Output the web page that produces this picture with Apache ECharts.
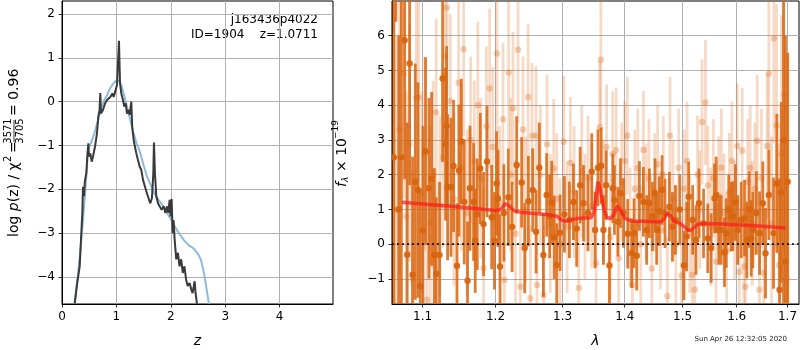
<!DOCTYPE html>
<html>
<head>
<meta charset="utf-8">
<script src="https://cdn.jsdelivr.net/npm/echarts@6/dist/echarts.min.js"></script>
<style>
  html, body { margin: 0; padding: 0; background: #fff; }
  #chart { width: 800px; height: 350px; }
</style>
</head>
<body>
<div id="chart"></div>
<script>
// --- left panel: log p(z) ---
const zTicks = [0, 1, 2, 3, 4];
const pzTicks = [-4, -3, -2, -1, 0, 1, 2];

const priorZ = [0.23, 0.28, 0.33, 0.38, 0.43, 0.48, 0.53, 0.60, 0.69, 0.76, 0.82, 0.88, 0.94, 1.00, 1.05, 1.09,
  1.15, 1.21, 1.30, 1.37, 1.43, 1.50, 1.56, 1.62, 1.70, 1.78, 1.87, 1.95, 2.03, 2.12, 2.24, 2.33, 2.42, 2.50,
  2.55, 2.61, 2.66, 2.70];
const priorLogP = [-4.62, -4.1, -3.5, -2.8, -2.0, -1.1, -0.95, -0.7, -0.3, 0.0, 0.13, 0.3, 0.41, 0.49, 0.47, 0.38,
  0.11, -0.19, -0.65, -0.95, -1.14, -1.45, -1.7, -1.87, -2.1, -2.25, -2.4, -2.58, -2.75, -2.95, -3.16, -3.28, -3.35, -3.48,
  -3.6, -3.92, -4.3, -4.62];

const pzZ = [0.233, 0.28, 0.325, 0.355, 0.374, 0.386, 0.404, 0.42, 0.447, 0.465, 0.484, 0.496, 0.52, 0.545, 0.57,
  0.606, 0.643, 0.667, 0.69, 0.704, 0.716, 0.753, 0.79, 0.827, 0.85, 0.888, 0.925, 0.949, 0.986, 1.01, 1.035, 1.047,
  1.066, 1.09, 1.12, 1.145, 1.17, 1.194, 1.219, 1.243, 1.274, 1.29, 1.317, 1.34, 1.366, 1.396, 1.427, 1.457, 1.488,
  1.525, 1.56, 1.6, 1.623, 1.653, 1.678, 1.69, 1.708, 1.733, 1.764, 1.794, 1.83, 1.868, 1.9, 1.93, 1.953, 1.978,
  1.996, 2.015, 2.033, 2.05, 2.07, 2.1, 2.13, 2.16, 2.19, 2.22, 2.25, 2.28, 2.31, 2.345, 2.376, 2.4, 2.437, 2.455, 2.48];
const pzLog = [-4.61, -4.14, -3.76, -3.0, -2.54, -1.94, -2.16, -1.82, -1.63, -1.25, -0.95, -1.25, -1.18, -1.37, -1.25,
  -1.03, -0.72, -0.34, -0.19, 0.2, -0.27, -0.19, -0.04, 0.04, 0.0, 0.11, 0.19, 0.11, 0.27, 0.38, 0.34, 1.39,
  0.42, 0.19, 0.04, -0.11, -0.04, -0.27, -0.19, -0.30, 0.0, -0.57, -0.87, -1.03, -1.18, -1.33, -1.48, -1.56, -1.78,
  -1.94, -2.09, -2.24, -2.32, -2.2, -1.63, -0.93, -1.63, -2.16, -2.32, -2.35, -2.47, -2.39, -2.54, -2.39, -2.54, -2.24,
  -2.62, -2.22, -3.0, -2.7, -3.15, -3.6, -3.45, -3.76, -3.6, -3.91, -3.76, -4.06, -4.21, -4.14, -4.29, -4.37, -4.1, -4.37, -4.61];

// --- right panel: spectrum ---
const waveTicks = [1.1, 1.2, 1.3, 1.4, 1.5, 1.6, 1.7];
const fluxTicks = [-1, 0, 1, 2, 3, 4, 5, 6];

const darkWave = [1.0630, 1.0655, 1.0690, 1.0725, 1.0767, 1.0800, 1.0831, 1.0869, 1.0905, 1.0940, 1.0970, 1.1005,
  1.1039, 1.1084, 1.1119, 1.1155, 1.1181, 1.1225, 1.1266, 1.1306, 1.1320, 1.1333, 1.1379, 1.1414, 1.1461, 1.1488,
  1.1520, 1.1561, 1.1606, 1.1640, 1.1690, 1.1713, 1.1741, 1.1784, 1.1830, 1.1879, 1.1945, 1.1985,
  1.2016, 1.2036, 1.2065, 1.2120, 1.2185, 1.2240, 1.2307, 1.2380, 1.2425, 1.2480, 1.2544, 1.2595, 1.2644, 1.2705,
  1.2755, 1.2800, 1.2832, 1.2870, 1.2909, 1.2960, 1.3028, 1.3106, 1.3169, 1.3220, 1.3275, 1.3328, 1.3400, 1.3460, 1.3514,
  1.3560, 1.3612, 1.3649, 1.3693, 1.3747, 1.3803, 1.3829, 1.3885, 1.3929, 1.3980, 1.4050, 1.4117, 1.4156, 1.4202,
  1.4247, 1.4315, 1.4372, 1.4418, 1.4470, 1.4515, 1.4544, 1.4590, 1.4637, 1.4689, 1.4766, 1.4820, 1.4873, 1.4950,
  1.5025, 1.5073, 1.5109, 1.5182, 1.5242,
  1.5296, 1.5380, 1.5458, 1.5521, 1.5582, 1.5614, 1.5662, 1.5707, 1.5769, 1.5801, 1.5850, 1.5896, 1.5926, 1.5975,
  1.6022, 1.6087, 1.6151, 1.6195, 1.6240, 1.6280, 1.6312, 1.6380, 1.6443, 1.6507, 1.6560, 1.6626, 1.6719, 1.6785,
  1.6840, 1.6874, 1.6920, 1.6960, 1.7005];
const darkFlux = [2.5, 9.5, 1.0, 2.5, 5.87, -0.3, 5.2, -0.88, 1.8, 1.56, -1.2, 0.4,
  2.68, 1.61, 1.88, -0.31, -0.85, -0.31, 4.77, 2.88, 3.4, 1.64, 1.64, 2.25, -0.62, 2.12,
  2.96, 1.22, -1.05, 1.61, 1.22, 0.1, 0.86, 2.18, 0.58, 2.38, 0.78, 0.1,
  1.75, 1.32, -0.64, 0.9, 1.35, 0.5, 2.28, 1.78, -0.11, 1.24, 1.56, 0.36, 2.2, -0.31,
  1.42, 0.8, 1.2, 0.2, -0.6, 0.33, 0.86, 0.7, 1.22, 0.45, 1.7, 1.18, 0.9, 2.09, 0.41,
  2.2, 2.26, 0.41, 1.7, -0.61, 1.61, 1.27, 0.65, 1.47, 0.9, 0.3, -0.26, 0.32, -0.33,
  1.39, 1.22, 0.41, 1.18, 0.8, 1.47, 0.41, 0.95, 1.56, 0.89, 1.08, 0.5, 0.7, 1.0,
  -0.61, 0.22, 1.37, 0.7, 0.12,
  1.18, 0.6, 0.17, -0.11, 1.32, 1.42, 0.41, 0.41, -0.23, 0.32, 1.0, 0.79, 0.81, 1.2,
  0.41, 0.7, 0.75, 0.12, 1.0, 0.17, 0.41, 0.9, 0.32, 1.18, -0.26, 1.42, 0.32, 1.75,
  -1.31, 1.49, 3.0, -0.5, 1.8];
const darkErr = [6.0, 3.1, 5.0, 4.5, 4.0, 3.8, 3.5, 3.4, 3.4, 3.1, 2.8, 3.0,
  2.7, 2.6, 2.5, 2.5, 2.2, 2.1, 2.4, 2.2, 2.3, 2.1, 2.0, 1.9, 1.8, 1.9,
  1.8, 1.8, 1.7, 1.8, 1.7, 1.5, 1.6, 1.6, 1.5, 1.6, 1.5, 1.4,
  1.5, 1.4, 1.5, 1.4, 1.4, 1.3, 1.4, 1.3, 1.3, 1.3, 1.2, 1.2, 1.3, 1.2,
  1.2, 1.2, 1.2, 1.2, 1.2, 1.1, 1.1, 1.1, 1.1, 1.1, 1.1, 1.1, 1.1, 1.1, 1.1,
  1.1, 1.1, 1.0, 1.0, 1.1, 1.0, 1.0, 1.0, 1.0, 1.0, 1.0, 1.0, 1.0, 1.0,
  1.0, 1.0, 1.0, 1.0, 1.0, 1.0, 1.0, 1.0, 1.0, 1.0, 1.0, 1.0, 1.0, 1.0,
  1.0, 1.0, 1.0, 1.0, 1.0,
  1.0, 1.0, 1.0, 1.0, 1.0, 1.1, 1.0, 1.0, 1.0, 1.0, 1.0, 1.0, 1.0, 1.1,
  1.0, 1.1, 1.1, 1.1, 1.1, 1.1, 1.1, 1.2, 1.2, 1.2, 1.3, 1.3, 1.6, 2.0,
  3.2, 2.6, 5.0, 6.5, 3.7];

const lightWave = [1.0650, 1.0700, 1.0754, 1.0790, 1.0830, 1.0870, 1.0918, 1.0948, 1.0990, 1.1030, 1.1057, 1.1100,
  1.1140, 1.1180, 1.1230, 1.1270, 1.1302, 1.1325, 1.1370, 1.1420, 1.1483, 1.1520, 1.1552, 1.1600, 1.1650, 1.1700,
  1.1750, 1.1790, 1.1830, 1.1870, 1.1916, 1.1960, 1.2021, 1.2060, 1.2108, 1.2127, 1.2189, 1.2220, 1.2253, 1.2290,
  1.2327, 1.2361, 1.2400, 1.2440, 1.2476, 1.2510, 1.2535, 1.2595, 1.2610, 1.2660, 1.2709, 1.2761, 1.2810, 1.2863,
  1.2910, 1.2960, 1.3017, 1.3070, 1.3122, 1.3180, 1.3253, 1.3300, 1.3350, 1.3400, 1.3460, 1.3530, 1.3588, 1.3607,
  1.3650, 1.3700, 1.3760, 1.3800, 1.3857, 1.3900, 1.3950, 1.4000, 1.4044, 1.4090, 1.4129, 1.4170, 1.4220, 1.4270,
  1.4315, 1.4360, 1.4410, 1.4460, 1.4510, 1.4560, 1.4610, 1.4660, 1.4731, 1.4776, 1.4830, 1.4880, 1.4930, 1.4980,
  1.5030, 1.5080, 1.5130, 1.5176, 1.5222, 1.5270, 1.5310, 1.5352, 1.5416, 1.5460, 1.5510, 1.5560, 1.5610, 1.5660,
  1.5710, 1.5760, 1.5810, 1.5860, 1.5910, 1.5960, 1.6011, 1.6050, 1.6106, 1.6137, 1.6169, 1.6210, 1.6260, 1.6300,
  1.6350, 1.6396, 1.6440, 1.6480, 1.6526, 1.6593, 1.6626, 1.6680, 1.6725, 1.6780, 1.6830, 1.6880, 1.6930, 1.6975];
const lightFlux = [1.0, 3.3, 4.91, 0.8, 2.9, -1.0, 4.22, 4.22, 1.5, 2.6, -1.6, 0.6,
  2.0, 3.8, 1.1, 2.5, 5.41, 6.81, 4.12, 1.3, 4.65, 2.2, 5.61, 0.9, 3.0, 2.4,
  4.0, 1.9, -0.69, 3.4, 4.48, 2.8, 5.49, 1.2, 3.6, -1.03, 4.94, 2.0, 3.91, 0.3,
  5.6, -1.22, 3.3, 1.0, 4.24, -1.55, 3.12, 3.12, -1.17, 2.0, -1.46, 2.88, 0.6, 2.18,
  1.3, 0.0, 2.95, 0.5, 2.34, 1.5, -1.26, 2.1, 0.8, 1.9, 1.1, -0.55, 3.36, 5.31,
  1.2, 2.8, 0.2, 2.6, 2.71, -0.4, 1.8, 2.4, 3.12, 0.5, -1.17, 1.6, 2.2, 0.0,
  2.71, 1.2, 1.9, -0.7, 1.5, 2.3, 0.4, 2.0, -1.49, 3.12, 1.3, 0.0, 2.2, -0.9,
  1.6, 2.4, 0.3, -0.88, -1.31, 2.0, 1.0, 3.52, 4.08, 1.7, 0.5, 1.9, -0.5, 1.4,
  2.2, 0.9, -0.2, 1.5, 2.4, 0.7, 2.83, -0.79, 2.69, -0.64, -1.22, 1.8, 2.2, 0.6,
  1.6, 2.98, -1.31, 1.9, -0.83, 2.83, 4.91, 0.6, 5.92, 3.41, -0.6, 2.6, 4.3, -1.0];
const lightErr = [5.0, 4.2, 3.6, 3.6, 3.4, 3.1, 3.1, 3.0, 2.9, 2.8, 2.7, 2.8,
  2.7, 2.7, 2.6, 2.6, 2.5, 2.5, 2.5, 2.5, 2.5, 2.4, 2.5, 2.4, 2.4, 2.3,
  2.4, 2.3, 2.3, 2.3, 2.3, 2.3, 2.3, 2.2, 2.2, 2.2, 2.2, 2.2, 2.2, 2.1,
  2.1, 2.1, 2.1, 2.1, 2.1, 2.1, 2.1, 2.0, 2.0, 2.0, 2.0, 2.0, 2.0, 2.0,
  1.9, 1.9, 1.9, 1.9, 1.9, 1.9, 1.9, 1.9, 1.8, 1.8, 1.8, 1.8, 1.9, 1.9,
  1.8, 1.8, 1.8, 1.8, 1.8, 1.7, 1.7, 1.7, 1.7, 1.7, 1.7, 1.7, 1.7, 1.7,
  1.7, 1.7, 1.7, 1.7, 1.7, 1.7, 1.7, 1.7, 1.7, 1.7, 1.7, 1.7, 1.7, 1.7,
  1.7, 1.7, 1.7, 1.7, 1.7, 1.7, 1.7, 1.8, 1.8, 1.7, 1.7, 1.7, 1.7, 1.7,
  1.7, 1.7, 1.7, 1.7, 1.7, 1.7, 1.8, 1.8, 1.8, 1.8, 1.8, 1.8, 1.8, 1.8,
  1.9, 1.9, 1.9, 2.0, 2.0, 2.1, 2.2, 2.5, 3.0, 3.5, 3.5, 4.0, 4.5, 5.0];

const modelWave = [1.073, 1.10, 1.15, 1.20, 1.207, 1.214, 1.22, 1.227, 1.24, 1.26, 1.28, 1.292, 1.298, 1.304, 1.313,
  1.325, 1.345, 1.35, 1.353, 1.356, 1.36, 1.365, 1.37, 1.376, 1.382, 1.388, 1.394, 1.40, 1.41, 1.43, 1.46, 1.466,
  1.473, 1.479, 1.485, 1.495, 1.505, 1.511, 1.517, 1.525, 1.533, 1.56, 1.60, 1.65, 1.696];
const modelFlux = [1.21, 1.16, 1.07, 0.97, 1.0, 1.17, 1.1, 0.96, 0.91, 0.88, 0.85, 0.8, 0.7, 0.66, 0.7,
  0.75, 0.76, 0.95, 1.4, 1.8, 1.55, 1.05, 0.78, 0.74, 0.85, 1.11, 0.95, 0.75, 0.67, 0.66, 0.64, 0.7,
  0.88, 0.82, 0.66, 0.6, 0.48, 0.39, 0.42, 0.55, 0.6, 0.59, 0.56, 0.52, 0.47];

const chart = echarts.init(document.getElementById("chart"), null, { renderer: "canvas" });

const font = "DejaVu Sans";
const minus = (v) => String(v).replace("-", "\u2212");
const log10 = (v) => Math.log10(v);

function axisCommon(ticks, formatter) {
  return {
    axisLine: { show: true, onZero: false, lineStyle: { color: "#000", width: 1 } },
    axisTick: { show: true, customValues: ticks, length: 3.5, lineStyle: { color: "#000", width: 0.8 } },
    axisLabel: {
      customValues: ticks,
      color: "#000",
      fontFamily: font,
      fontSize: 12,
      margin: 7,
      formatter,
    },
    splitLine: { show: true, lineStyle: { color: "#b0b0b0", width: 1 } },
  };
}

// vertical error bar with a dot at the value
function errorBars(color, barOpacity, dotOpacity) {
  return (params, api) => {
    const x = api.value(0);
    const y = api.value(1);
    const e = api.value(2);
    const lo = api.coord([x, y - e]);
    const hi = api.coord([x, y + e]);
    const c = api.coord([x, y]);
    return {
      type: "group",
      children: [
        {
          type: "line",
          shape: { x1: lo[0], y1: lo[1], x2: hi[0], y2: hi[1] },
          style: { stroke: color, lineWidth: 2.8, opacity: barOpacity },
        },
        {
          type: "circle",
          shape: { cx: c[0], cy: c[1], r: 3.2 },
          style: { fill: color, opacity: dotOpacity },
        },
      ],
    };
  };
}

const orange = "#d9650f";

chart.setOption({
  animation: false,
  grid: [
    { left: 62, top: 1, width: 271, height: 303, show: true, borderColor: "#000", borderWidth: 1, outerBoundsMode: "none" },
    { left: 392, top: 1, width: 407, height: 303, show: true, borderColor: "#000", borderWidth: 1, outerBoundsMode: "none" },
  ],
  xAxis: [
    {
      gridIndex: 0,
      type: "value",
      min: 0,
      max: 4.98,
      name: "z",
      nameLocation: "middle",
      nameGap: 30,
      nameTextStyle: { fontFamily: font, fontSize: 14, fontStyle: "italic", color: "#000" },
      ...axisCommon(zTicks, (v) => minus(v)),
    },
    {
      gridIndex: 1,
      type: "value",
      min: log10(1.0606),
      max: log10(1.7235),
      name: "\u03bb",
      nameLocation: "middle",
      nameGap: 30,
      nameTextStyle: { fontFamily: font, fontSize: 14, fontStyle: "italic", color: "#000" },
      ...axisCommon(waveTicks.map(log10), (v) => Math.pow(10, v).toFixed(1)),
    },
  ],
  yAxis: [
    {
      gridIndex: 0,
      type: "value",
      min: -4.62,
      max: 2.3,
      ...axisCommon(pzTicks, (v) => minus(v)),
    },
    {
      gridIndex: 1,
      type: "value",
      min: -1.72,
      max: 7.0,
      ...axisCommon(fluxTicks, (v) => minus(v)),
    },
  ],
  series: [
    {
      type: "line",
      xAxisIndex: 0,
      yAxisIndex: 0,
      showSymbol: false,
      data: priorZ.map((z, i) => [z, priorLogP[i]]),
      lineStyle: { color: "#8fbbd9", width: 2 },
      z: 3,
    },
    {
      type: "line",
      xAxisIndex: 0,
      yAxisIndex: 0,
      showSymbol: false,
      data: pzZ.map((z, i) => [z, pzLog[i]]),
      lineStyle: { color: "#3a3a3a", width: 2 },
      z: 4,
    },
    {
      type: "custom",
      xAxisIndex: 1,
      yAxisIndex: 1,
      clip: true,
      renderItem: errorBars(orange, 0.24, 0.3),
      data: lightWave.map((w, i) => [log10(w), lightFlux[i], lightErr[i]]),
      z: 2,
    },
    {
      type: "custom",
      xAxisIndex: 1,
      yAxisIndex: 1,
      clip: true,
      renderItem: errorBars(orange, 0.85, 0.95),
      data: darkWave.map((w, i) => [log10(w), darkFlux[i], darkErr[i]]),
      z: 3,
    },
    {
      type: "line",
      xAxisIndex: 1,
      yAxisIndex: 1,
      showSymbol: false,
      data: modelWave.map((w, i) => [log10(w), modelFlux[i]]),
      lineStyle: { color: "#ff1a1a", width: 3.5, opacity: 0.72 },
      markLine: {
        silent: true,
        symbol: "none",
        label: { show: false },
        lineStyle: { color: "#000", type: [2, 3], width: 1.5, opacity: 1 },
        data: [{ yAxis: 0 }],
      },
      z: 5,
    },
  ],
  graphic: [
    {
      type: "group",
      x: 14,
      y: 237,
      rotation: Math.PI / 2,
      children: [
        { type: "text", x: 0, y: 0, style: { text: "log {i|p}(z) / \u03c7", fontFamily: font, fontSize: 14, fill: "#000", verticalAlign: "middle", rich: { i: { fontStyle: "italic", fontFamily: font, fontSize: 14 } } } },
        { type: "text", x: 75, y: -6, style: { text: "2", fontFamily: font, fontSize: 10, fill: "#000", verticalAlign: "middle" } },
        { type: "text", x: 84, y: 0, style: { text: "=", fontFamily: font, fontSize: 14, fill: "#000", verticalAlign: "middle" } },
        { type: "text", x: 106, y: -6, style: { text: "3571", fontFamily: font, fontSize: 10, fill: "#000", align: "center", verticalAlign: "middle" } },
        { type: "line", shape: { x1: 95, y1: 0, x2: 117, y2: 0 }, style: { stroke: "#000", lineWidth: 0.8 } },
        { type: "text", x: 106, y: 6, style: { text: "3705", fontFamily: font, fontSize: 10, fill: "#000", align: "center", verticalAlign: "middle" } },
        { type: "text", x: 121, y: 0, style: { text: "= 0.96", fontFamily: font, fontSize: 14, fill: "#000", verticalAlign: "middle" } },
      ],
    },
    {
      type: "group",
      x: 342,
      y: 187,
      rotation: Math.PI / 2,
      children: [
        { type: "text", x: 0, y: 0, style: { text: "f", fontFamily: font, fontSize: 14, fontStyle: "italic", fill: "#000", verticalAlign: "middle" } },
        { type: "text", x: 5, y: 4, style: { text: "\u03bb", fontFamily: font, fontSize: 9, fontStyle: "italic", fill: "#000", verticalAlign: "middle" } },
        { type: "text", x: 15, y: 0, style: { text: "\u00d7 10", fontFamily: font, fontSize: 14, fill: "#000", verticalAlign: "middle" } },
        { type: "text", x: 48, y: -6, style: { text: "\u221219", fontFamily: font, fontSize: 9, fill: "#000", verticalAlign: "middle" } },
      ],
    },
    {
      type: "text",
      x: 318,
      y: 20,
      style: { text: "j163436p4022", fontFamily: font, fontSize: 12, fill: "#000", align: "right", verticalAlign: "middle" },
    },
    {
      type: "text",
      x: 318,
      y: 35,
      style: { text: "ID=1904    z=1.0711", fontFamily: font, fontSize: 12, fill: "#000", align: "right", verticalAlign: "middle" },
    },
    {
      type: "text",
      x: 787,
      y: 339,
      style: { text: "Sun Apr 26 12:32:05 2020", fontFamily: font, fontSize: 7, fill: "#222", align: "right", verticalAlign: "middle" },
    },
  ],
});
</script>
</body>
</html>
